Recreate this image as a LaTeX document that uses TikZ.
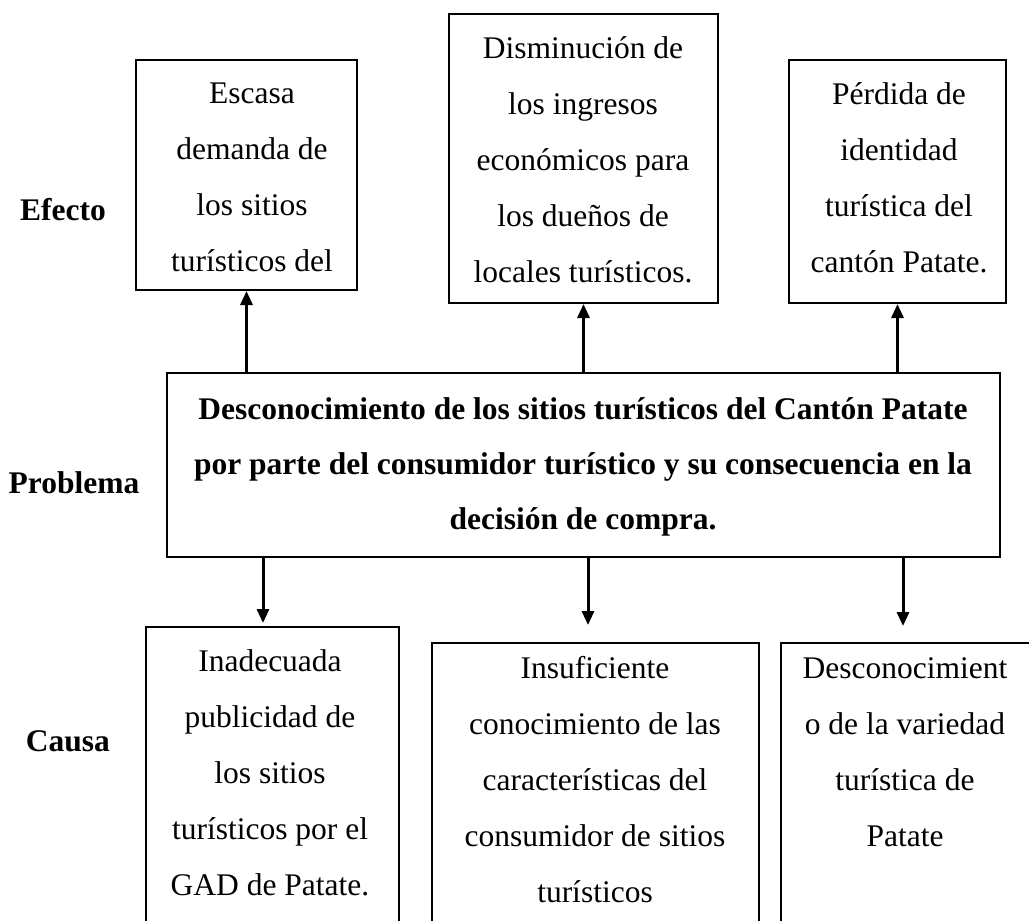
\documentclass[tikz,border=0pt]{standalone}
\usepackage{fontspec}
\setmainfont{Liberation Serif}
\usetikzlibrary{arrows.meta,fit}
\newcommand{\mlines}[2][160pt]{\parbox[t]{#1}{\centering #2}}
\begin{document}
\begin{tikzpicture}[x=0.4pt,y=-0.4pt,
  box/.style={draw, line width=0.8pt, inner sep=0pt},
  txt/.style={anchor=base, inner sep=0pt, font=\fontsize{12.6}{22.4}\selectfont},
  btxt/.style={txt, font=\fontsize{12.6}{22}\selectfont\bfseries},
  lbl/.style={anchor=base, inner sep=0pt, font=\fontsize{12.6}{15}\selectfont\bfseries},
  arr/.style={line width=1.2pt, -{Triangle[length=5.6pt,width=4.8pt]}}]
\path[use as bounding box, clip] (0,0) rectangle (1029,921);
\fill[white] (0,0) rectangle (1029,921);

% effect boxes
\node[box, fit={(136,60) (357,290)}] (e1) {};
\node[box, fit={(449,14) (718,303)}] (e2) {};
\node[box, fit={(789,60) (1006,303)}] (e3) {};
% problem box
\node[box, fit={(167,373) (1000,557)}] (m) {};
% cause boxes (cut off at the bottom of the picture)
\node[box, fit={(146,627) (399,960)}] (c1) {};
\node[box, fit={(432,643) (759,960)}] (c2) {};
\node[box, fit={(781,643) (1060,960)}] (c3) {};

% texts
\node[txt] (te1) at (252,103) {\mlines{Escasa\\demanda de\\los sitios\\turísticos del}};
\node[txt] (te2) at (583,58) {\mlines{Disminución de\\los ingresos\\económicos para\\los dueños de\\locales turísticos.}};
\node[txt] (te3) at (899,104) {\mlines{Pérdida de\\identidad\\turística del\\cantón Patate.}};
\node[btxt] (tm) at (583,419) {\mlines[380pt]{Desconocimiento de los sitios turísticos del Cantón Patate\\por parte del consumidor turístico y su consecuencia en la\\decisión de compra.}};
\node[txt] (tc1) at (270,671) {\mlines{Inadecuada\\publicidad de\\los sitios\\turísticos por el\\GAD de Patate.}};
\node[txt] (tc2) at (595,678) {\mlines{Insuficiente\\conocimiento de las\\características del\\consumidor de sitios\\turísticos}};
\node[txt] (tc3) at (905,678) {\mlines{Desconocimient\\o de la variedad\\turística de\\Patate}};

% row labels
\node[lbl] (lef) at (63,220) {Efecto};
\node[lbl] (lpr) at (74,493) {Problema};
\node[lbl] (lca) at (68,751) {Causa};

% arrows up (problem -> effects)
\draw[arr] (m.north -| e1.south) -- (e1.south);
\draw[arr] (m.north -| e2.south) -- (e2.south);
\draw[arr] (m.north -| e3.south) -- (e3.south);

% arrows down (problem -> causes)
\coordinate (d1) at (263,623);
\coordinate (d2) at (588,625);
\coordinate (d3) at (903,626);
\draw[arr] (m.south -| d1) -- (d1);
\draw[arr] (m.south -| d2) -- (d2);
\draw[arr] (m.south -| d3) -- (d3);
\end{tikzpicture}
\end{document}
